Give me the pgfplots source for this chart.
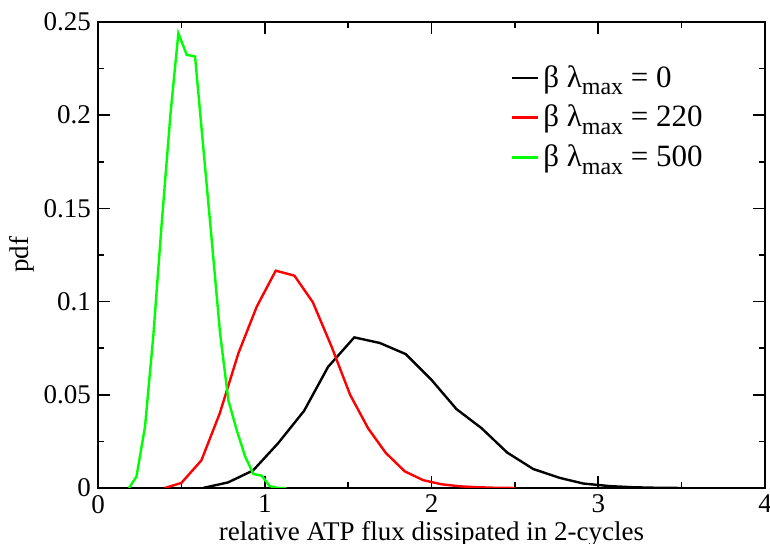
\documentclass[border=0pt]{standalone}
\usepackage{fontspec}
\setmainfont{Liberation Serif}
\usepackage{pgfplots}
\pgfplotsset{compat=1.18}
\newcommand{\bl}[1]{β λ\raisebox{-0.55ex}{\fontsize{12}{12}\selectfont max} = #1}
\begin{document}
\begin{tikzpicture}
\path[use as bounding box] (0,0) rectangle (385pt,272pt);
\begin{axis}[
  at={(49pt,28pt)}, anchor=south west,
  scale only axis, width=333.5pt, height=233pt,
  xmin=0, xmax=4, ymin=0, ymax=0.25,
  xtick={0,1,2,3,4}, minor xtick={0.5,1.5,2.5,3.5},
  ytick={0,0.05,0.1,0.15,0.2,0.25}, minor ytick={0.025,0.075,0.125,0.175,0.225},
  scaled y ticks=false,
  yticklabel style={/pgf/number format/fixed},
  /pgf/number format/assume math mode=true,
  tick align=inside, tick pos=both,
  major tick length=6pt, minor tick length=3pt,
  every tick/.style={black, line width=0.8pt},
  axis line style={line width=1pt},
  font=\rmfamily\fontsize{13.5}{16}\selectfont,
  tick label style={font=\rmfamily\fontsize{13.5}{16}\selectfont},
  xlabel={relative ATP flux dissipated in 2-cycles},
  ylabel={pdf},
  xlabel style={yshift=3pt},
  ylabel style={yshift=-2pt},
  legend style={draw=none, fill=none, at={(0.61,0.925)}, anchor=north west,
    font=\rmfamily\fontsize{15.5}{18}\selectfont, row sep=3.5pt},
  legend cell align=left,
  legend image post style={xscale=0.75},
  every axis plot/.append style={line width=1.2pt},
]
\addplot[black] coordinates {
(0.63,0) (0.78,0.003) (0.93,0.0094) (1.08,0.024) (1.236,0.0414) (1.38,0.065)
(1.537,0.0808) (1.69,0.0778) (1.846,0.0718) (2.0,0.058) (2.15,0.0423)
(2.30,0.0321) (2.454,0.019) (2.61,0.0102) (2.77,0.0054) (2.91,0.0024)
(3.07,0.001) (3.21,0.0004) (3.36,0.0001) (3.51,0)
};
\addlegendentry{\bl{0}}
\addplot[red] coordinates {
(0.40,0) (0.50,0.0027) (0.62,0.0148) (0.73,0.040) (0.842,0.0723) (0.952,0.0973)
(1.066,0.1166) (1.178,0.1139) (1.288,0.0997) (1.40,0.076) (1.512,0.050)
(1.62,0.032) (1.726,0.0188) (1.84,0.0089) (1.95,0.0042) (2.06,0.002)
(2.17,0.0009) (2.28,0.0004) (2.39,0.0001) (2.50,0)
};
\addlegendentry{\bl{220}}
\addplot[color={rgb,255:red,0;green,255;blue,0}] coordinates {
(0.186,0) (0.231,0.0062) (0.282,0.033) (0.332,0.082) (0.382,0.142) (0.435,0.201)
(0.482,0.244) (0.532,0.2324) (0.582,0.2315) (0.632,0.182) (0.682,0.133)
(0.732,0.083) (0.782,0.047) (0.832,0.031) (0.882,0.017) (0.932,0.0075)
(0.982,0.0066) (1.03,0.001) (1.08,0.0) (1.13,0)
};
\addlegendentry{\bl{500}}
\end{axis}
\end{tikzpicture}
\end{document}
